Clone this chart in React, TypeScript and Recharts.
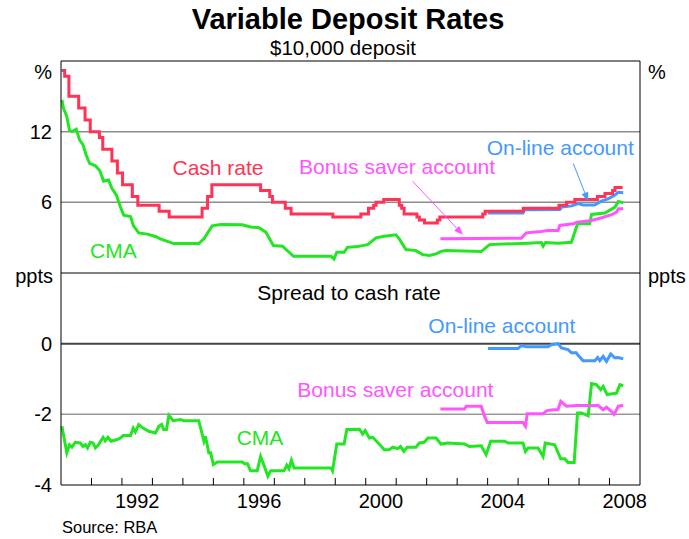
import React from 'react';
import { LineChart, Line, XAxis, YAxis, ReferenceLine } from 'recharts';

// ---------- data (decimal years, per cent / percentage points) ----------
const cashDates = [1990.02, 1990.12, 1990.26, 1990.58, 1990.79, 1990.96, 1991.26, 1991.37, 1991.67, 1991.85, 1992.02, 1992.34, 1992.52, 1993.22, 1993.55, 1994.63, 1994.81, 1994.95, 1996.55, 1996.85, 1996.94, 1997.36, 1997.55, 1998.92, 1999.84, 2000.09, 2000.26, 2000.34, 2000.59, 2001.10, 2001.18, 2001.26, 2001.68, 2001.76, 2001.93, 2002.35, 2002.43, 2003.84, 2003.92, 2005.17, 2006.34, 2006.59, 2006.86, 2007.60, 2007.85, 2008.10, 2008.18, 2008.43];
const cashRate = [17.2, 16.7, 15.0, 14.0, 13.0, 12.0, 11.5, 10.5, 9.5, 8.5, 7.5, 6.5, 5.75, 5.25, 4.75, 5.5, 6.5, 7.5, 7.0, 6.5, 6.0, 5.5, 5.0, 4.75, 5.0, 5.5, 5.75, 6.0, 6.25, 5.75, 5.5, 5.0, 4.75, 4.5, 4.25, 4.5, 4.75, 5.0, 5.25, 5.5, 5.75, 6.0, 6.25, 6.5, 6.75, 7.0, 7.25, 7.25];

const cmaDates = [1990.03, 1990.08, 1990.19, 1990.28, 1990.36, 1990.5, 1990.61, 1990.72, 1990.83, 1990.94, 1991.13, 1991.27, 1991.4, 1991.56, 1991.67, 1991.82, 1991.95, 1992.06, 1992.28, 1992.38, 1992.55, 1992.83, 1993.1, 1993.26, 1993.7, 1994.52, 1994.69, 1994.96, 1995.24, 1995.95, 1996.22, 1996.5, 1996.72, 1996.97, 1997.27, 1997.63, 1998.86, 1998.96, 1999.05, 1999.29, 1999.4, 1999.73, 2000.06, 2000.34, 2000.61, 2000.99, 2001.1, 2001.32, 2001.65, 2001.87, 2002.09, 2002.31, 2002.47, 2002.64, 2003.79, 2004.06, 2005.33, 2005.76, 2005.82, 2005.9, 2006.31, 2006.75, 2006.95, 2007.35, 2007.41, 2007.85, 2008.18, 2008.29, 2008.45];
const cmaRate = [14.7, 14.0, 13.3, 12.1, 12.0, 12.2, 11.3, 10.9, 10.0, 9.3, 9.1, 8.7, 7.8, 7.9, 7.2, 6.6, 5.6, 4.9, 4.8, 4.0, 3.4, 3.3, 3.1, 2.9, 2.5, 2.5, 2.9, 4.0, 4.12, 4.1, 3.9, 3.84, 3.47, 2.33, 2.27, 1.42, 1.42, 1.19, 1.76, 1.76, 2.18, 2.24, 2.41, 2.99, 3.12, 3.24, 2.9, 1.99, 1.9, 1.56, 1.48, 1.62, 1.84, 1.9, 1.82, 2.41, 2.53, 2.59, 2.27, 2.59, 2.53, 2.61, 4.18, 4.18, 4.97, 5.1, 5.6, 6.08, 5.97];

const bonusDates = [2002.45, 2005.1, 2005.27, 2005.76, 2005.98, 2006.31, 2006.37, 2006.81, 2006.95, 2007.41, 2007.74, 2008.07, 2008.23, 2008.29, 2008.45];
const bonusRate = [2.9, 2.95, 3.41, 3.52, 3.61, 3.61, 4.04, 4.18, 4.32, 4.46, 4.69, 4.95, 5.17, 5.46, 5.46];

const onlineDates = [2004.01, 2005.16, 2005.21, 2006.37, 2006.43, 2006.76, 2006.97, 2007.13, 2007.51, 2007.73, 2007.95, 2008.17, 2008.29, 2008.45];
const onlineRate = [5.1, 5.1, 5.38, 5.4, 5.6, 5.7, 5.9, 5.77, 5.77, 6.1, 6.3, 6.6, 6.86, 6.82];

const cmaSpreadDates = [1990.03, 1990.19, 1990.28, 1990.36, 1990.47, 1990.63, 1990.72, 1990.8, 1990.87, 1990.96, 1991.05, 1991.13, 1991.23, 1991.38, 1991.45, 1991.54, 1991.64, 1991.82, 1991.95, 1992.04, 1992.28, 1992.37, 1992.44, 1992.55, 1992.69, 1992.88, 1993.1, 1993.21, 1993.3, 1993.37, 1993.46, 1993.54, 1993.68, 1993.92, 1994.03, 1994.52, 1994.61, 1994.69, 1994.74, 1994.85, 1994.91, 1995.0, 1995.13, 1995.95, 1996.03, 1996.12, 1996.22, 1996.44, 1996.55, 1996.66, 1996.79, 1996.88, 1997.32, 1997.41, 1997.48, 1997.56, 1997.65, 1998.86, 1998.91, 1999.05, 1999.29, 1999.38, 1999.79, 1999.9, 1999.98, 2000.12, 2000.23, 2000.44, 2000.61, 2000.77, 2000.89, 2001.05, 2001.14, 2001.25, 2001.36, 2001.65, 2001.76, 2001.92, 2002.04, 2002.31, 2002.47, 2002.69, 2003.24, 2003.4, 2003.79, 2003.95, 2004.1, 2004.56, 2004.67, 2005.16, 2005.24, 2005.33, 2005.65, 2005.82, 2005.89, 2006.2, 2006.4, 2006.53, 2006.64, 2006.84, 2006.95, 2007.08, 2007.3, 2007.41, 2007.57, 2007.71, 2007.79, 2007.92, 2008.23, 2008.34, 2008.45];
const cmaSpread = [-2.34, -3.09, -2.86, -2.93, -2.79, -2.81, -2.91, -2.86, -2.95, -2.79, -2.81, -2.95, -2.86, -2.65, -2.75, -2.65, -2.76, -2.72, -2.67, -2.6, -2.6, -2.39, -2.5, -2.29, -2.39, -2.48, -2.53, -2.34, -2.29, -2.43, -2.43, -2.03, -2.18, -2.15, -2.18, -2.18, -2.48, -2.76, -2.62, -3.09, -3.09, -3.42, -3.35, -3.35, -3.4, -3.4, -3.6, -3.6, -3.19, -3.44, -3.75, -3.6, -3.6, -3.44, -3.54, -3.3, -3.52, -3.52, -3.6, -2.84, -2.84, -2.43, -2.42, -2.56, -2.46, -2.67, -2.65, -2.84, -3.0, -3.0, -2.93, -2.97, -2.91, -3.05, -2.93, -2.93, -2.81, -2.79, -2.67, -2.67, -2.84, -2.81, -2.84, -2.91, -2.89, -3.14, -2.76, -2.76, -2.81, -2.81, -3.05, -2.95, -2.95, -3.19, -2.81, -2.86, -3.26, -3.26, -3.36, -3.36, -1.96, -1.96, -2.04, -1.13, -1.16, -1.3, -1.21, -1.44, -1.4, -1.16, -1.19];

const bonusSpreadDates = [2002.45, 2003.24, 2003.3, 2003.79, 2003.9, 2003.99, 2005.16, 2005.24, 2005.3, 2005.82, 2005.93, 2006.15, 2006.31, 2006.4, 2006.59, 2006.92, 2007.63, 2007.79, 2007.9, 2008.07, 2008.15, 2008.29, 2008.45];
const bonusSpread = [-1.85, -1.85, -1.77, -1.77, -2.06, -2.23, -2.23, -2.34, -1.98, -1.98, -1.9, -1.87, -1.87, -1.63, -1.77, -1.75, -1.75, -1.87, -1.8, -1.92, -2.0, -1.77, -1.75];

const onlineSpreadDates = [2004.01, 2005.0, 2005.11, 2005.27, 2005.98, 2006.09, 2006.31, 2006.42, 2006.64, 2006.75, 2006.91, 2006.97, 2007.13, 2007.52, 2007.61, 2007.68, 2007.79, 2007.9, 2008.04, 2008.17, 2008.29, 2008.45];
const onlineSpread = [-0.14, -0.14, -0.05, -0.09, -0.09, -0.03, 0, -0.12, -0.17, -0.26, -0.26, -0.33, -0.48, -0.48, -0.39, -0.48, -0.36, -0.5, -0.29, -0.4, -0.39, -0.43];

const yearTicks = [1991, 1992, 1993, 1994, 1995, 1996, 1997, 1998, 1999, 2000, 2001, 2002, 2003, 2004, 2005, 2006, 2007, 2008];
const yearLabels = [1992, 1996, 2000, 2004, 2008];
const topTicks = [6, 12];
const bottomTicks = [-4, -2, 0];

// ---------- helpers ----------
const pts = (xs: number[], ys: number[]) => xs.map((x, i) => ({ x, y: ys[i] }));

const FONT = "'Liberation Sans', Arial, Helvetica, sans-serif";
const RED = '#FF3355';
const GREEN = '#22E622';
const PINK = '#FF55FF';
const BLUE = '#4499FF';

const arrow = (color: string) => (p: any) => {
  const { x1, y1, x2, y2 } = p;
  const a = Math.atan2(y2 - y1, x2 - x1);
  const L = 9;
  const w = 3.5;
  const bx = x2 - L * Math.cos(a);
  const by = y2 - L * Math.sin(a);
  const px = -Math.sin(a) * w;
  const py = Math.cos(a) * w;
  return (
    <g>
      <line x1={x1} y1={y1} x2={bx} y2={by} stroke={color} strokeWidth={1} />
      <polygon points={`${x2},${y2} ${bx + px},${by + py} ${bx - px},${by - py}`} fill={color} />
    </g>
  );
};

const tickStyle = { fill: '#000', fontSize: 20, fontFamily: FONT };

export default function App() {
  return (
    <div style={{ position: 'absolute', left: 0, top: 0, width: 689, height: 539, background: '#fff', fontFamily: FONT }}>
      <div style={{ position: 'absolute', left: 0, top: 0 }}>
        <LineChart width={689} height={273} margin={{ top: 61, right: 0, bottom: 0, left: 0 }}>
          <XAxis xAxisId="t" type="number" dataKey="x" domain={[1990, 2009]} hide />
          <YAxis yAxisId="l" orientation="left" width={61} type="number" domain={[0, 18]} ticks={topTicks} interval={0}
            axisLine={{ stroke: '#000' }} tickLine={false} tickSize={6} tickMargin={3} tick={tickStyle} />
          <YAxis yAxisId="r" orientation="right" width={49} type="number" domain={[0, 18]} ticks={topTicks} interval={0}
            axisLine={{ stroke: '#000' }} tickLine={false} tickSize={6} tickMargin={2} tick={tickStyle} />
          <ReferenceLine xAxisId="t" yAxisId="l" y={12} stroke="#8c8c8c" strokeWidth={1.5} />
          <ReferenceLine xAxisId="t" yAxisId="l" y={6} stroke="#8c8c8c" strokeWidth={1.5} />
          <ReferenceLine xAxisId="t" yAxisId="l" y={18} stroke="#000" strokeWidth={1} />
          <ReferenceLine xAxisId="t" yAxisId="l" y={0} stroke="#000" strokeWidth={1} />
          <Line xAxisId="t" yAxisId="l" data={pts(cmaDates, cmaRate)} dataKey="y" type="linear" stroke={GREEN} strokeWidth={3} dot={false} activeDot={false} isAnimationActive={false} />
          <Line xAxisId="t" yAxisId="l" data={pts(bonusDates, bonusRate)} dataKey="y" type="linear" stroke={PINK} strokeWidth={3} dot={false} activeDot={false} isAnimationActive={false} />
          <Line xAxisId="t" yAxisId="l" data={pts(onlineDates, onlineRate)} dataKey="y" type="linear" stroke={BLUE} strokeWidth={3} dot={false} activeDot={false} isAnimationActive={false} />
          <Line xAxisId="t" yAxisId="l" data={pts(cashDates, cashRate)} dataKey="y" type="stepAfter" stroke={RED} strokeWidth={3} dot={false} activeDot={false} isAnimationActive={false} />
          <ReferenceLine xAxisId="t" yAxisId="l" segment={[{ x: 2001.54, y: 7.79 }, { x: 2003.19, y: 3.24 }]} shape={arrow(PINK)} />
          <ReferenceLine xAxisId="t" yAxisId="l" segment={[{ x: 2006.81, y: 9.3 }, { x: 2007.3, y: 6.08 }]} shape={arrow(BLUE)} />
        </LineChart>
      </div>
      <div style={{ position: 'absolute', left: 0, top: 273 }}>
        <LineChart width={689} height={242} margin={{ top: 0, right: 0, bottom: 0, left: 0 }}>
          <XAxis xAxisId="b" type="number" dataKey="x" domain={[1990, 2009]} ticks={yearLabels.map((y) => y + 0.5)} interval={0}
            tickFormatter={(v: number) => String(Math.floor(v))} axisLine={false} tickLine={false} tickSize={0} tickMargin={9} height={30} tick={tickStyle} />
          <YAxis yAxisId="l" orientation="left" width={61} type="number" domain={[-4, 2]} ticks={bottomTicks} interval={0}
            axisLine={{ stroke: '#000' }} tickLine={false} tickSize={6} tickMargin={3} tick={tickStyle} />
          <YAxis yAxisId="r" orientation="right" width={49} type="number" domain={[-4, 2]} ticks={bottomTicks} interval={0}
            axisLine={{ stroke: '#000' }} tickLine={false} tickSize={6} tickMargin={2} tick={tickStyle} />
          <ReferenceLine xAxisId="b" yAxisId="l" y={-2} stroke="#999" strokeWidth={1.5} />
          <ReferenceLine xAxisId="b" yAxisId="l" y={0} stroke="#444" strokeWidth={2} />
          <ReferenceLine xAxisId="b" yAxisId="l" y={2} stroke="#000" strokeWidth={1} />
          <ReferenceLine xAxisId="b" yAxisId="l" y={-4} stroke="#000" strokeWidth={1} />
          {yearTicks.map((yr) => (
            <ReferenceLine key={yr} xAxisId="b" yAxisId="l" segment={[{ x: yr, y: -4 }, { x: yr, y: -3.8 }]} stroke="#000" strokeWidth={1} />
          ))}
          <Line xAxisId="b" yAxisId="l" data={pts(cmaSpreadDates, cmaSpread)} dataKey="y" type="linear" stroke={GREEN} strokeWidth={3} dot={false} activeDot={false} isAnimationActive={false} />
          <Line xAxisId="b" yAxisId="l" data={pts(bonusSpreadDates, bonusSpread)} dataKey="y" type="linear" stroke={PINK} strokeWidth={3} dot={false} activeDot={false} isAnimationActive={false} />
          <Line xAxisId="b" yAxisId="l" data={pts(onlineSpreadDates, onlineSpread)} dataKey="y" type="linear" stroke={BLUE} strokeWidth={3} dot={false} activeDot={false} isAnimationActive={false} />
        </LineChart>
      </div>
      <svg width={689} height={539} style={{ position: 'absolute', left: 0, top: 0, pointerEvents: 'none' }} fontFamily={FONT}>
        <text x={348} y={29} textAnchor="middle" fontSize={29} fontWeight="bold" fill="#000">Variable Deposit Rates</text>
        <text x={343} y={55} textAnchor="middle" fontSize={20.5} fill="#000">$10,000 deposit</text>
        <text x={52} y={79} textAnchor="end" fontSize={20} fill="#000">%</text>
        <text x={648} y={79} textAnchor="start" fontSize={20} fill="#000">%</text>
        <text x={53} y={283} textAnchor="end" fontSize={20} fill="#000">ppts</text>
        <text x={648} y={283} textAnchor="start" fontSize={20} fill="#000">ppts</text>
        <text x={62} y={533} fontSize={16.5} fill="#000">Source: RBA</text>
        <text x={172.5} y={175} fontSize={21} fill={RED}>Cash rate</text>
        <text x={90} y={257.5} fontSize={21} fill={GREEN}>CMA</text>
        <text x={299} y={174} fontSize={21} fill={PINK}>Bonus saver account</text>
        <text x={486.7} y={154.5} fontSize={21} fill={BLUE}>On-line account</text>
        <text x={257.3} y={299.5} fontSize={21} fill="#000">Spread to cash rate</text>
        <text x={428.3} y={332.7} fontSize={21} fill={BLUE}>On-line account</text>
        <text x={297.3} y={396.7} fontSize={21} fill={PINK}>Bonus saver account</text>
        <text x={236.7} y={445} fontSize={21} fill={GREEN}>CMA</text>
      </svg>
    </div>
  );
}
